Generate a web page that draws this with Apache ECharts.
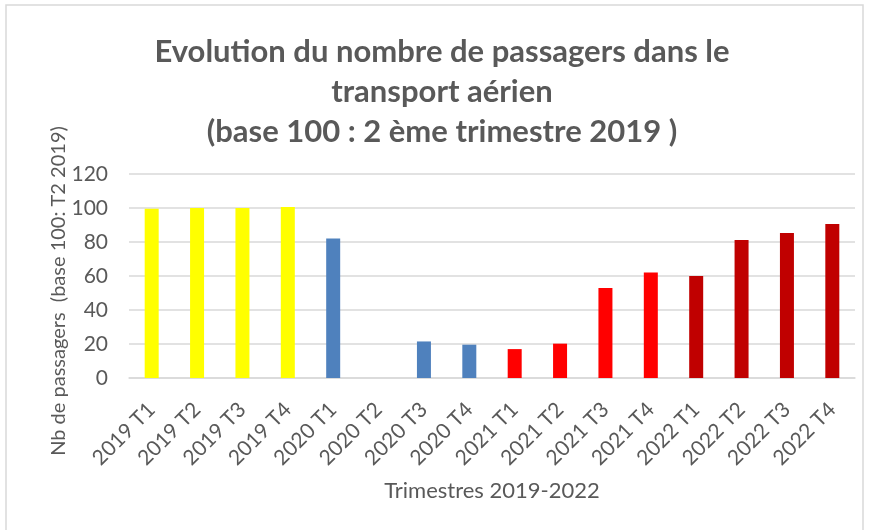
<!DOCTYPE html>
<html>
<head>
<meta charset="utf-8">
<script src="https://cdn.jsdelivr.net/npm/echarts@6/dist/echarts.min.js"></script>
<style>
  html, body { margin: 0; padding: 0; background: #fff; }
  #chart { width: 869px; height: 530px; }
</style>
</head>
<body>
<div id="chart"></div>
<script>
// trimestres et indice (base 100 : T2 2019)
const categories = ['2019 T1', '2019 T2', '2019 T3', '2019 T4',
  '2020 T1', '2020 T2', '2020 T3', '2020 T4',
  '2021 T1', '2021 T2', '2021 T3', '2021 T4',
  '2022 T1', '2022 T2', '2022 T3', '2022 T4'];
const values = [99.5, 100, 100, 100.6, 82, 0, 21.5, 19.6, 17, 20.2, 53, 62, 60, 81.2, 85.3, 90.6];
const yTicks = [0, 20, 40, 60, 80, 100, 120];

const yearColors = {
  '2019': '#ffff00',
  '2020': '#4f81bd',
  '2021': '#ff0000',
  '2022': '#c00000'
};

const grey = '#595959';
const font = 'Lato, "Noto Sans", sans-serif';

const chart = echarts.init(document.getElementById('chart'));

const option = {
  animation: false,
  title: {
    text: 'Evolution du nombre de passagers dans le\ntransport aérien\n(base 100 : 2 ème trimestre 2019 )',
    left: 437,
    textAlign: 'center',
    top: 27,
    textStyle: {
      fontFamily: font,
      fontWeight: 'bold',
      fontSize: 31,
      lineHeight: 40,
      color: grey
    }
  },
  graphic: [{
    type: 'rect',
    shape: { x: 6, y: 5, width: 857, height: 540 },
    style: { fill: 'none', stroke: '#d9d9d9', lineWidth: 1.5 },
    silent: true
  }, {
    // titre de l'axe vertical (centré comme dans Excel, un peu plus bas que la zone de tracé)
    type: 'text',
    x: 59,
    y: 291,
    rotation: Math.PI / 2,
    style: {
      text: 'Nb de passagers  (base 100: T2 2019)',
      align: 'center',
      verticalAlign: 'middle',
      fontFamily: font,
      fontSize: 20,
      fill: grey
    },
    silent: true
  }],
  grid: {
    left: 129,
    right: 14,
    top: 174,
    bottom: 152
  },
  xAxis: {
    type: 'category',
    data: categories,
    name: 'Trimestres 2019-2022',
    nameLocation: 'middle',
    nameGap: 102,
    nameTextStyle: { fontFamily: font, fontSize: 22, color: grey },
    axisLine: { lineStyle: { color: '#d9d9d9', width: 1.5 } },
    axisTick: { show: false },
    axisLabel: {
      rotate: 45,
      margin: 28,
      interval: 0,
      fontFamily: font,
      fontSize: 21,
      color: grey
    }
  },
  yAxis: {
    type: 'value',
    min: yTicks[0],
    max: yTicks[yTicks.length - 1],
    interval: 20,
    axisLine: { show: false },
    axisTick: { show: false },
    axisLabel: { margin: 21, fontFamily: font, fontSize: 21, color: grey },
    splitLine: { lineStyle: { color: '#d9d9d9', width: 1.5 } }
  },
  series: [{
    type: 'bar',
    data: values,
    barWidth: 14,
    itemStyle: {
      color: function (p) {
        return yearColors[categories[p.dataIndex].slice(0, 4)];
      }
    }
  }]
};

chart.setOption(option);
</script>
</body>
</html>
